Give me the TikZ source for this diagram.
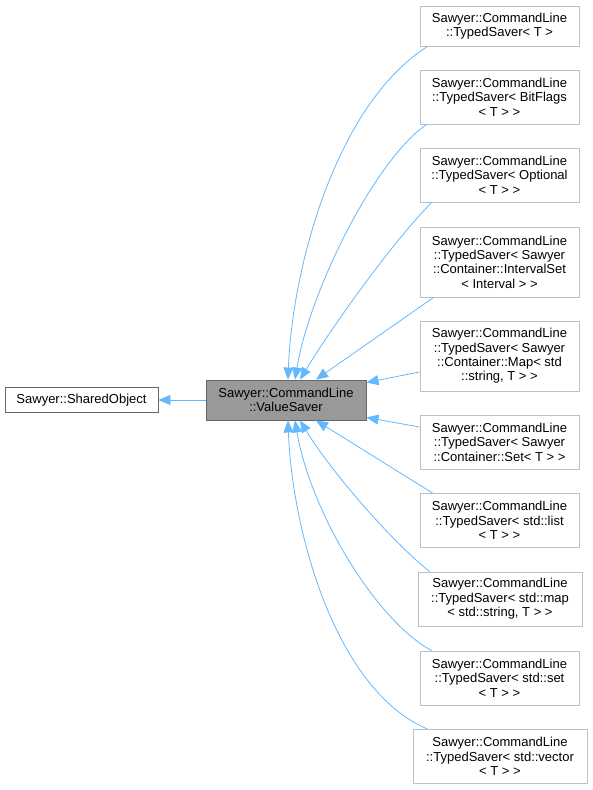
\documentclass[tikz,border=0pt]{standalone}
\usepackage{fontspec}
\setmainfont{Liberation Sans}
\usepackage{tikz}
\usetikzlibrary{positioning, arrows.meta, calc}
\definecolor{edgeB}{RGB}{99,184,255}
\definecolor{boxG}{RGB}{191,191,191}
\definecolor{boxD}{RGB}{102,102,102}
\definecolor{fillV}{RGB}{153,153,153}
\tikzstyle{cls}   = [draw=boxG, line width=0.9pt, fill=white, align=center, inner sep=0pt, minimum width=159, font=\fontsize{13}{14.4}\selectfont]
\tikzstyle{base}  = [draw=boxD, line width=0.9pt, align=center, inner sep=0pt, font=\fontsize{13}{14.4}\selectfont]
\tikzstyle{inh}   = [{Triangle[length=12pt,width=10pt]}-, draw=edgeB, line width=0.8pt]

\begin{document}
\begin{tikzpicture}[x=1pt, y=-1pt]
% canvas 592 x 790, y downwards
\useasboundingbox (0,0) rectangle (592,790);
% base classes
\node[base, minimum width=153, minimum height=25] (shared) at (81.5,400) {Sawyer::SharedObject};
\node[base, fill=fillV, minimum width=160, minimum height=40] (value) at (286,400) {Sawyer::CommandLine\\::ValueSaver};
% derived classes
\node[cls, minimum height=40] (tsT)    at (499.5,26)  {Sawyer::CommandLine\\::TypedSaver< T >};
\node[cls, minimum height=54] (tsBit)  at (499.5,97)  {Sawyer::CommandLine\\::TypedSaver< BitFlags\\< T > >};
\node[cls, minimum height=54] (tsOpt)  at (499.5,175) {Sawyer::CommandLine\\::TypedSaver< Optional\\< T > >};
\node[cls, minimum height=70] (tsIvl)  at (499.5,262) {Sawyer::CommandLine\\::TypedSaver< Sawyer\\::Container::IntervalSet\\< Interval > >};
\node[cls, minimum height=70] (tsCMap) at (499.5,356) {Sawyer::CommandLine\\::TypedSaver< Sawyer\\::Container::Map< std\\::string, T > >};
\node[cls, minimum height=54] (tsCSet) at (499.5,442) {Sawyer::CommandLine\\::TypedSaver< Sawyer\\::Container::Set< T > >};
\node[cls, minimum height=54] (tsList) at (499.5,520.5) {Sawyer::CommandLine\\::TypedSaver< std::list\\< T > >};
\node[cls, minimum height=54, minimum width=164] (tsMap) at (500,599) {Sawyer::CommandLine\\::TypedSaver< std::map\\< std::string, T > >};
\node[cls, minimum height=54] (tsSet)  at (499.5,678) {Sawyer::CommandLine\\::TypedSaver< std::set\\< T > >};
\node[cls, minimum height=54, minimum width=174] (tsVec) at (500,756.5) {Sawyer::CommandLine\\::TypedSaver< std::vector\\< T > >};
% inheritance edges
\draw[inh] (shared.east) -- (value.west);
\draw[inh] ($(value.north)+(2,0)$) .. controls (292,270) and (335,105) .. ($(tsT.south west)+(8,0)$);
\draw[inh] ($(value.north)+(9,0)$) .. controls (310,290) and (375,160) .. ($(tsBit.south west)+(7,0)$);
\draw[inh] ($(value.north)+(14,0)$) .. controls (330,330) and (390,245) .. ($(tsOpt.south west)+(12,0)$);
\draw[inh] ($(value.north)+(30,0)$) -- ($(tsIvl.south west)+(14,0)$);
\draw[inh] ($(value.north east)+(0,3)$) -- ($(tsCMap.west)+(0,16)$);
\draw[inh] ($(value.south east)+(0,-3)$) -- ($(tsCSet.west)+(0,-15)$);
\draw[inh] ($(value.south)+(30,0)$) -- ($(tsList.north west)+(13,0)$);
\draw[inh] ($(value.south)+(14,0)$) .. controls (330,470) and (390,540) .. ($(tsMap.north west)+(12,0)$);
\draw[inh] ($(value.south)+(9,0)$) .. controls (310,510) and (375,620) .. ($(tsSet.north west)+(12,0)$);
\draw[inh] ($(value.south)+(2,0)$) .. controls (292,530) and (335,690) .. ($(tsVec.north west)+(15,0)$);
\end{tikzpicture}
\end{document}
